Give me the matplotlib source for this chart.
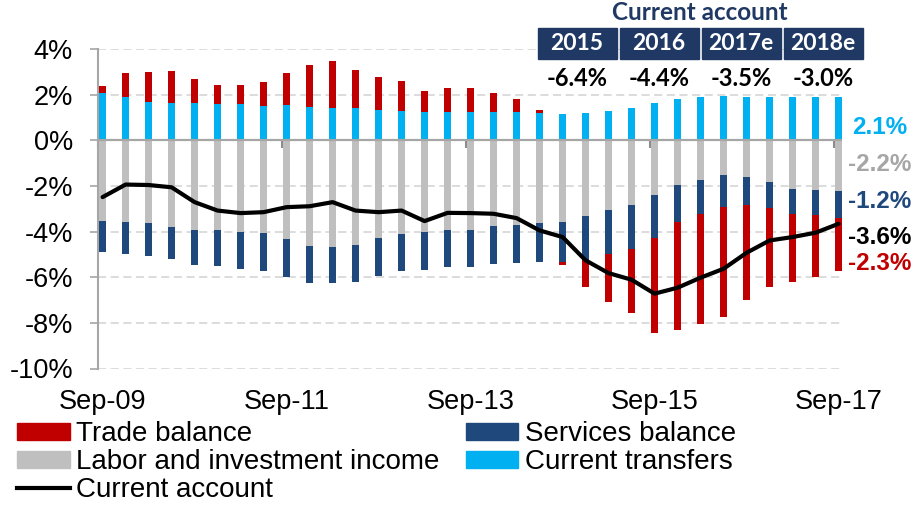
import matplotlib
matplotlib.use("Agg")
from matplotlib import pyplot as plt
from matplotlib.patches import Patch, Rectangle
from matplotlib.lines import Line2D
import numpy as np

# quarterly data, Sep-09 .. Sep-17 (% of GDP)
quarters = [f"{m}-{y:02d}" for y in range(9, 18) for m in ("Mar", "Jun", "Sep", "Dec")][2:35]
tick_labels = ["Sep-09", "Sep-11", "Sep-13", "Sep-15", "Sep-17"]

transfers = [2.07, 1.88, 1.69, 1.62, 1.62, 1.61, 1.61, 1.52, 1.56, 1.47, 1.43,
             1.43, 1.33, 1.29, 1.24, 1.24, 1.26, 1.26, 1.26, 1.18, 1.14, 1.18,
             1.28, 1.40, 1.65, 1.81, 1.91, 1.96, 1.91, 1.91, 1.91, 1.91, 1.91]
income = [-3.54, -3.56, -3.63, -3.79, -3.92, -3.92, -4.01, -4.07, -4.33, -4.64, -4.68,
          -4.58, -4.26, -4.10, -4.00, -3.91, -3.91, -3.76, -3.70, -3.62, -3.59, -3.33,
          -3.05, -2.83, -2.39, -1.95, -1.76, -1.54, -1.59, -1.84, -2.13, -2.16, -2.23]
services = [-1.36, -1.41, -1.43, -1.43, -1.55, -1.58, -1.63, -1.66, -1.67, -1.62, -1.58,
            -1.63, -1.69, -1.63, -1.70, -1.66, -1.66, -1.67, -1.67, -1.72, -1.75, -1.93,
            -1.92, -1.92, -1.90, -1.62, -1.49, -1.39, -1.24, -1.12, -1.12, -1.11, -1.17]
trade = [0.32, 1.08, 1.32, 1.43, 1.08, 0.80, 0.83, 1.05, 1.40, 1.84, 2.04,
         1.66, 1.43, 1.32, 0.90, 1.05, 1.02, 0.83, 0.57, 0.13, -0.11, -1.19,
         -2.13, -2.80, -4.14, -4.73, -4.79, -4.82, -4.19, -3.47, -2.98, -2.74, -2.32]
current_account = [-2.49, -1.94, -1.96, -2.06, -2.71, -3.08, -3.19, -3.15, -2.93, -2.89, -2.71,
                   -3.08, -3.15, -3.08, -3.54, -3.18, -3.19, -3.22, -3.41, -3.95, -4.24, -5.26,
                   -5.82, -6.11, -6.72, -6.46, -6.02, -5.63, -4.93, -4.39, -4.24, -4.05, -3.66]

years = ["2015", "2016", "2017e", "2018e"]
annual_ca = ["-6.4%", "-4.4%", "-3.5%", "-3.0%"]
last_labels = ["2.1%", "-2.2%", "-1.2%", "-3.6%", "-2.3%"]

RED = "#C00000"
NAVY = "#1F497D"
GREY = "#BFBFBF"
CYAN = "#00B0F0"
DARK = "#1F3864"
AXIS = "#A6A6A6"

W, H = 924, 505
plt.rcParams["font.family"] = ["Liberation Sans", "DejaVu Sans"]
fig = plt.figure(figsize=(W / 100, H / 100), dpi=100)
ax = fig.add_axes([98 / W, 1 - 368.5 / H, (842 - 98) / W, (368.5 - 49) / H])

x = np.arange(len(quarters))
width = 0.32

# stack positives and negatives separately, in series order
pos = np.zeros(len(x))
neg = np.zeros(len(x))
for vals, color in [(transfers, CYAN), (income, GREY), (services, NAVY), (trade, RED)]:
    v = np.array(vals)
    bottom = np.where(v >= 0, pos, neg)
    ax.bar(x, v, width, bottom=bottom, color=color, zorder=3)
    pos = pos + np.clip(v, 0, None)
    neg = neg + np.clip(v, None, 0)

ax.plot(x, current_account, color="black", lw=3, zorder=6, solid_capstyle="round")
ax.axhline(0, color=AXIS, lw=1.6, zorder=5)

ax.set_xlim(-0.2, 32.15)
ax.set_ylim(-10, 4)
ax.set_yticks(np.arange(-10, 5, 2))
ax.set_yticklabels([f"{v}%" for v in range(-10, 5, 2)])
for yv in range(-10, 5, 2):
    if yv != 0:
        ax.axhline(yv, color="#D9D9D9", lw=1.3, dashes=(4.5, 2.5), zorder=1)

for s in ["top", "right", "bottom"]:
    ax.spines[s].set_visible(False)
ax.spines["left"].set_color(AXIS)
ax.spines["left"].set_linewidth(1.5)
ax.tick_params(axis="y", length=6, width=1.2, color=AXIS, pad=12, labelsize=19.5)

# labels at the bottom, tick marks on the zero line
label_pos = [quarters.index(t) for t in tick_labels]
ax.set_xticks(label_pos)
ax.set_xticklabels(tick_labels)
ax.tick_params(axis="x", length=0, pad=15, labelsize=19.5)

zero_frac = (0 - (-10)) / 14
sec = ax.secondary_xaxis(zero_frac)
sec.set_alignment("bottom")
sec.set_xticks([p - 0.2 for p in label_pos])
sec.set_xticklabels([])
sec.tick_params(length=6, width=1.5, color="#8C8C8C", direction="out")
for sp in sec.spines.values():
    sp.set_visible(False)

# header boxes with annual current account
top_font = ["Lato", "DejaVu Sans"]
fig.text(700 / W, 1 - 12 / H, "Current account", color=DARK, fontsize=17.5,
         fontweight="bold", family=top_font, ha="center", va="center")
for i, (yr, val) in enumerate(zip(years, annual_ca)):
    cx = 577 + 82 * i
    fig.add_artist(Rectangle(((cx - 39.5) / W, 1 - 59 / H), 79 / W, 31 / H,
                             transform=fig.transFigure, color=DARK, zorder=5))
    fig.text(cx / W, 1 - 44 / H, yr, color="white", fontsize=16.5, fontweight="bold",
             family=top_font, ha="center", va="center", zorder=6)
    fig.text(cx / W, 1 - 78 / H, val, color="black", fontsize=17, fontweight="bold",
             family=top_font, ha="center", va="center", zorder=6)

# end-of-series labels
for txt, yy, c in zip(last_labels, [128, 164, 202, 237.5, 264],
                      [CYAN, AXIS, NAVY, "black", RED]):
    fig.text(880 / W, 1 - yy / H, txt, color=c, fontsize=17.5, fontweight="bold",
             ha="center", va="center")

handles = [Patch(color=RED), Patch(color=GREY), Line2D([], [], color="black", lw=3),
           Patch(color=NAVY), Patch(color=CYAN)]
labels = ["Trade balance", "Labor and investment income", "Current account",
          "Services balance", "Current transfers"]
fig.legend(handles, labels, loc="upper left", bbox_to_anchor=(17 / W, 1 - 421 / H),
           ncol=2, frameon=False, fontsize=20, handlelength=1.9, handleheight=0.55,
           handletextpad=0.22, columnspacing=0.95, labelspacing=0.08, borderpad=0,
           borderaxespad=0)

fig.savefig("out.png", dpi=100)
